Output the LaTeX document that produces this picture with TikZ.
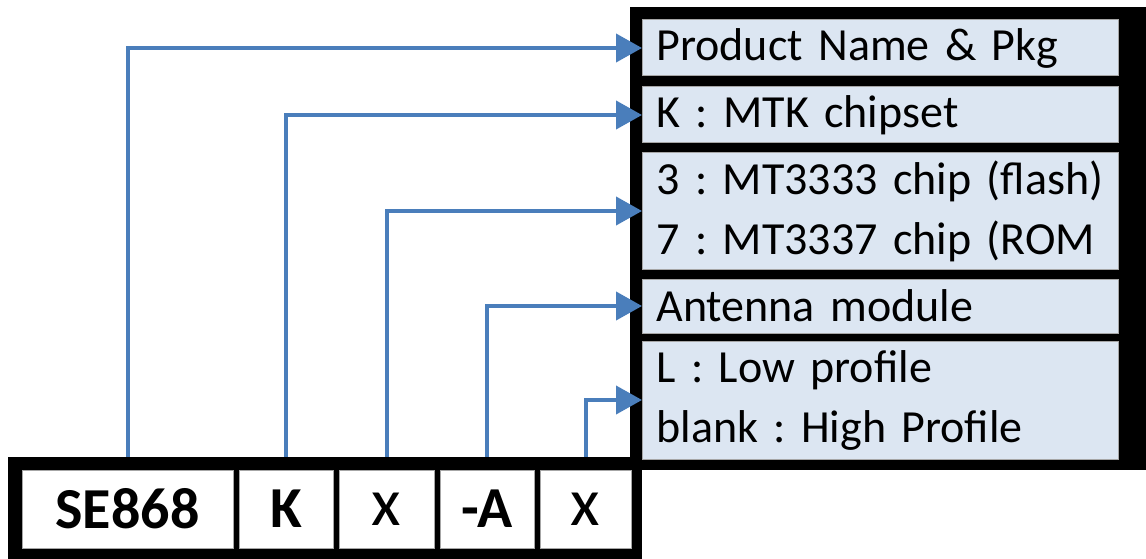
\documentclass[tikz,border=0pt]{standalone}
\usepackage{fontspec}
\setmainfont{Carlito}
\usetikzlibrary{arrows.meta}
\definecolor{linkblue}{RGB}{74,126,187}
\definecolor{fieldfill}{RGB}{220,230,242}
\frenchspacing
\tikzset{
	field/.style={draw=gray!70,fill=fieldfill,line width=1pt,anchor=west,
		text width=448pt,inner xsep=14pt,inner ysep=0pt,align=left,
		font=\fontsize{46}{60}\selectfont},
	part/.style={draw=gray!70,fill=white,line width=1pt,minimum height=78pt,
		inner sep=0pt,font=\fontsize{68}{68}\selectfont},
	link/.style={linkblue,line width=4pt,-{Triangle[length=26pt,width=28pt]}},
}
\begin{document}
\begin{tikzpicture}[x=1pt,y=-1pt]
	\useasboundingbox (0,0) rectangle (1146,559);
	% black frames
	\fill (630,7) rectangle (1170,470);
	\fill (8,457) rectangle (642,570);
	
	% right side: meaning of each field
	\node[field,minimum height=56pt] (name) at (642,48) {Product Name \& Pkg};
	\node[field,minimum height=56pt] (chipset) at (642,115) {K : MTK chipset};
	\node[field,minimum height=117pt] (chip) at (642,211) {3 : MT3333 chip (flash)\\7 : MT3337 chip (ROM};
	\node[field,minimum height=54pt] (antenna) at (642,306) {Antenna module};
	\node[field,minimum height=118pt] (profile) at (642,400) {L : Low profile\\blank : High Profile};
	
	% bottom: the part number
	\node[part,minimum width=211pt,font=\fontsize{58}{58}\bfseries] (se) at (127.5,509) {SE868};
	\node[part,minimum width=94pt,font=\fontsize{58}{58}\bfseries] (k) at (286,509) {K};
	\node[part,minimum width=95pt] (x1) at (386.5,509) {x};
	\node[part,minimum width=94pt,font=\fontsize{58}{58}\bfseries] (a) at (487,509) {-A};
	\node[part,minimum width=91pt] (x2) at (585.5,509) {x};
	
	\draw[link] ([yshift=13pt]se.north) |- (name.west);
	\draw[link] ([yshift=13pt]k.north) |- (chipset.west);
	\draw[link] ([yshift=13pt]x1.north) |- (chip.west);
	\draw[link] ([yshift=13pt]a.north) |- (antenna.west);
	\draw[link] ([yshift=13pt]x2.north) |- (profile.west);
\end{tikzpicture}
\end{document}
